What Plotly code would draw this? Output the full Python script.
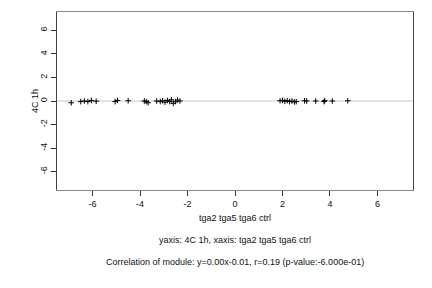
import plotly.graph_objects as go

x_vals = [-6.9, -6.5, -6.35, -6.2, -6.05, -5.85, -5.05, -4.95, -4.5, -3.82, -3.74, -3.66,
          -3.3, -3.15, -3.05, -2.95, -2.85, -2.75, -2.68, -2.6, -2.5, -2.42, -2.32,
          1.9, 2.0, 2.1, 2.2, 2.3, 2.4, 2.5, 2.58, 2.93, 3.02, 3.4, 3.75, 3.78, 4.1, 4.75]
y_vals = [-0.15, -0.05, 0.0, -0.05, 0.05, -0.02, -0.05, 0.05, 0.02, 0.0, -0.05, -0.15,
          0.0, -0.05, 0.02, -0.1, 0.05, -0.05, 0.1, -0.2, -0.05, 0.08, 0.0,
          0.02, 0.05, -0.03, 0.03, -0.05, 0.0, -0.08, -0.05, 0.02, 0.0, 0.0, -0.05, 0.03, 0.0, 0.02]
x_ticks = [-6, -4, -2, 0, 2, 4, 6]
x_ticktext = ["-6", "-4", "-2", "0", "2", "4", "6"]
y_ticks = [-6, -4, -2, 0, 2, 4, 6]
y_ticktext = ["-6", "-4", "-2", "0", "2", "4", "6"]
x_label = "tga2 tga5 tga6 ctrl"
y_label = "4C 1h"
sub1 = "yaxis: 4C 1h, xaxis: tga2 tga5 tga6 ctrl"
sub2 = "Correlation of module: y=0.00x-0.01, r=0.19 (p-value:-6.000e-01)"

font = dict(family="Liberation Sans, Arial, sans-serif", size=9, color="#111111")

fig = go.Figure()
fig.add_trace(go.Scatter(
    x=[-7.5, 7.5], y=[0, 0], mode="lines",
    line=dict(color="#c8c8c8", width=1), hoverinfo="skip", showlegend=False))
fig.add_trace(go.Scatter(
    x=x_vals, y=y_vals, mode="markers",
    marker=dict(symbol="cross-thin", size=4, line=dict(color="black", width=1)),
    showlegend=False))

fig.update_layout(
    width=432, height=288,
    margin=dict(l=57, r=19, t=12, b=98),
    paper_bgcolor="white", plot_bgcolor="white",
    font=font,
    xaxis=dict(range=[-7.5, 7.5], tickvals=x_ticks, ticktext=x_ticktext,
               ticks="outside", ticklen=5,
               tickcolor="#333", showgrid=False, zeroline=False,
               showline=True, linecolor="#888", linewidth=1, mirror=True,
               tickfont=font),
    yaxis=dict(range=[-7.57, 7.57], tickvals=y_ticks, ticktext=y_ticktext,
               ticks="outside", ticklen=5,
               tickcolor="#333", showgrid=False, zeroline=False, tickangle=-90,
               showline=True, linecolor="#444", linewidth=1, mirror=True,
               tickfont=font),
)

fig.add_annotation(text=x_label, xref="paper", yref="paper", x=0.5, y=0,
                   yanchor="middle", yshift=-28, showarrow=False, font=font)
fig.add_annotation(text=y_label, xref="paper", yref="paper", x=0, y=0.5,
                   xanchor="center", xshift=-22, textangle=-90, showarrow=False, font=font)
fig.add_annotation(text=sub1, xref="paper", yref="paper", x=0.5, y=0,
                   yanchor="middle", yshift=-50, showarrow=False, font=font)
fig.add_annotation(text=sub2, xref="paper", yref="paper", x=0.5, y=0,
                   yanchor="middle", yshift=-72, showarrow=False, font=font)

fig.write_html("out.html")
